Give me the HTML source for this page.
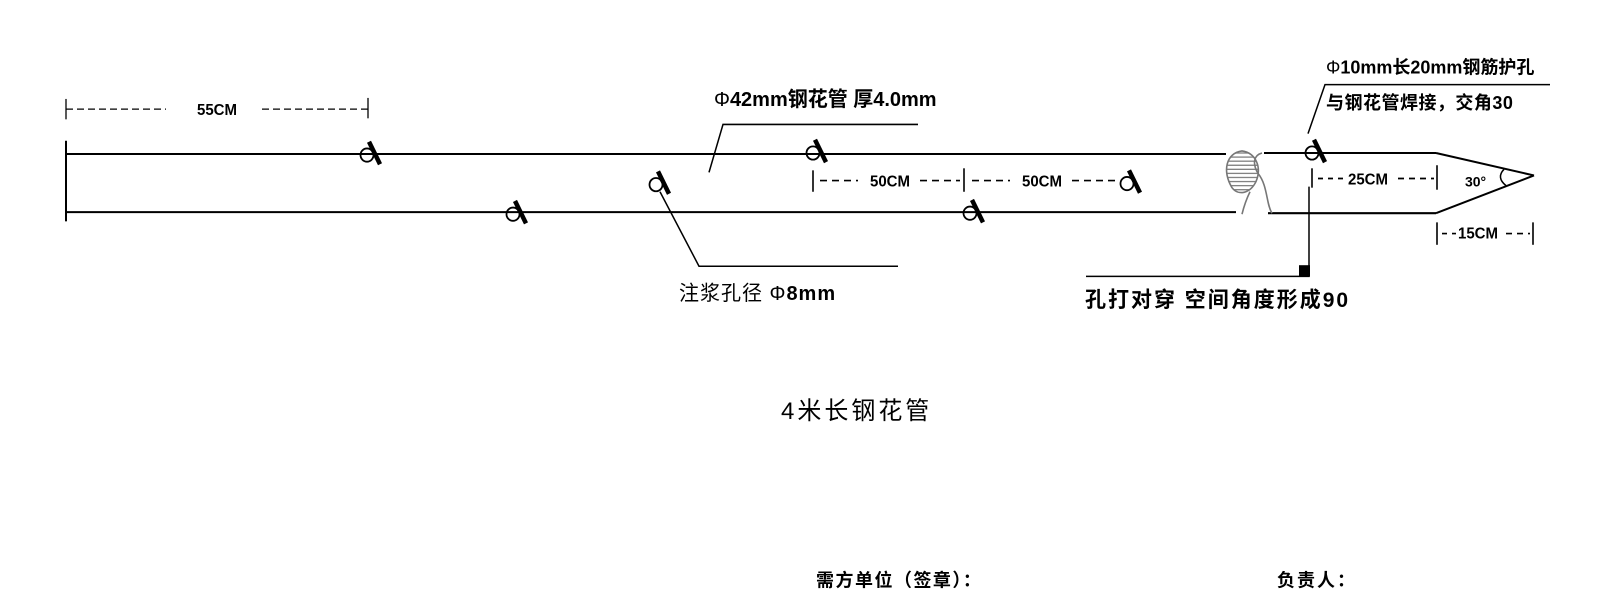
<!DOCTYPE html>
<html><head><meta charset="utf-8"><style>
html,body{margin:0;padding:0;background:#fff;}
svg{display:block}
text{font-family:"Liberation Sans","Noto Sans CJK SC",sans-serif;fill:#000}
</style></head><body>
<svg width="1600" height="600" viewBox="0 0 1600 600" xmlns="http://www.w3.org/2000/svg">
<defs>
<g id="hole">
<circle cx="0" cy="0" r="6.5" fill="none" stroke="#000" stroke-width="1.8"/>
<line x1="2" y1="-13" x2="13" y2="9" stroke="#000" stroke-width="4.5"/>
</g>
<pattern id="hatch" width="4" height="4" patternUnits="userSpaceOnUse"><line x1="0" y1="2" x2="4" y2="2" stroke="#777" stroke-width="1.2"/></pattern>
</defs>
<g transform="scale(1 1.02)">
<g stroke="#000" stroke-width="2" fill="none">
<line x1="66" y1="138" x2="66" y2="217"/>
<line x1="66" y1="151" x2="1226" y2="151"/>
<line x1="66" y1="208" x2="1236" y2="208"/>
<line x1="1264" y1="150" x2="1436" y2="150"/>
<line x1="1268" y1="209" x2="1436" y2="209"/>
<line x1="1436" y1="150" x2="1534" y2="172"/>
<line x1="1436" y1="209" x2="1534" y2="172"/>
</g>
<!-- weld -->
<path d="M1242 148 C1226 150,1222 168,1232 184 C1238 192,1250 190,1256 178 C1262 164,1256 150,1242 148 Z" fill="url(#hatch)" stroke="#777" stroke-width="1.6"/>
<path d="M1250 188 C1246 196,1244 202,1242 210 M1262 150 C1254 152,1252 160,1258 170 C1268 182,1266 200,1272 209" fill="none" stroke="#777" stroke-width="1.6"/>
<!-- holes -->
<use href="#hole" x="367" y="152"/>
<use href="#hole" x="513" y="210"/>
<use href="#hole" x="656" y="181"/>
<use href="#hole" x="813" y="150"/>
<use href="#hole" x="970" y="209"/>
<use href="#hole" x="1127" y="180"/>
<use href="#hole" x="1312" y="150"/>
<!-- 55CM -->
<g stroke="#000" stroke-width="1.3">
<line x1="66" y1="97" x2="66" y2="117"/>
<line x1="368" y1="96" x2="368" y2="116"/>
<line x1="66" y1="107" x2="166" y2="107" stroke-dasharray="7,4"/>
<line x1="262" y1="107" x2="368" y2="107" stroke-dasharray="7,4"/>
</g>
<text x="197" y="113" font-size="15" font-weight="bold">55CM</text>
<!-- 50CM -->
<g stroke="#000" stroke-width="1.6">
<line x1="813" y1="167" x2="813" y2="188"/>
<line x1="964" y1="165" x2="964" y2="188"/>
<line x1="820" y1="177" x2="858" y2="177" stroke-dasharray="7,5"/>
<line x1="920" y1="177" x2="960" y2="177" stroke-dasharray="7,5"/>
<line x1="972" y1="177" x2="1010" y2="177" stroke-dasharray="7,5"/>
<line x1="1072" y1="177" x2="1118" y2="177" stroke-dasharray="7,5"/>
</g>
<text x="870" y="183" font-size="15" font-weight="bold">50CM</text>
<text x="1022" y="183" font-size="15" font-weight="bold">50CM</text>
<!-- leaders -->
<g stroke="#000" stroke-width="1.5" fill="none">
<polyline points="709,169 723,122 918,122"/>
<polyline points="660,188 699,261 898,261"/>
<polyline points="1308,131 1325,83 1550,83"/>
<polyline points="1309,183 1309,271 1086,271"/>
</g>
<rect x="1299" y="260" width="11" height="11" fill="#000"/>
<text x="714" y="104" font-size="20">Φ<tspan font-weight="bold">42mm钢花管 厚4.0mm</tspan></text>
<text x="679" y="294" font-size="20" letter-spacing="1">注浆孔径 Φ<tspan font-weight="bold">8mm</tspan></text>
<text x="1326" y="72" font-size="18">Φ<tspan font-weight="bold">10mm长20mm钢筋护孔</tspan></text>
<text x="1326" y="107" font-size="18" font-weight="bold" letter-spacing="0.5">与钢花管焊接，交角30</text>
<text x="1085" y="301" font-size="21" font-weight="bold" letter-spacing="2">孔打对穿 空间角度形成90</text>
<!-- 25CM -->
<g stroke="#000" stroke-width="1.6">
<line x1="1312" y1="165" x2="1312" y2="184"/>
<line x1="1437" y1="162" x2="1437" y2="186"/>
<line x1="1318" y1="175" x2="1345" y2="175" stroke-dasharray="5,5"/>
<line x1="1398" y1="175" x2="1434" y2="175" stroke-dasharray="6,5"/>
<line x1="1437" y1="218" x2="1437" y2="240"/>
<line x1="1533" y1="218" x2="1533" y2="240"/>
<line x1="1442" y1="229" x2="1456" y2="229" stroke-dasharray="5,5"/>
<line x1="1506" y1="229" x2="1530" y2="229" stroke-dasharray="6,5"/>
</g>
<text x="1348" y="181" font-size="15" font-weight="bold">25CM</text>
<text x="1458" y="234" font-size="15" font-weight="bold">15CM</text>
<text x="1465" y="183" font-size="14" font-weight="bold">30°</text>
<path d="M1504 166 Q1496 174 1506 182" fill="none" stroke="#000" stroke-width="1.5"/>
<text x="781" y="411" font-size="24" letter-spacing="3">4米长钢花管</text>
<text x="816" y="575" font-size="18" font-weight="bold" letter-spacing="1.5">需方单位（签章）：</text>
<text x="1277" y="575" font-size="18" font-weight="bold" letter-spacing="2">负责人：</text>
</g>
</svg>
</body></html>
